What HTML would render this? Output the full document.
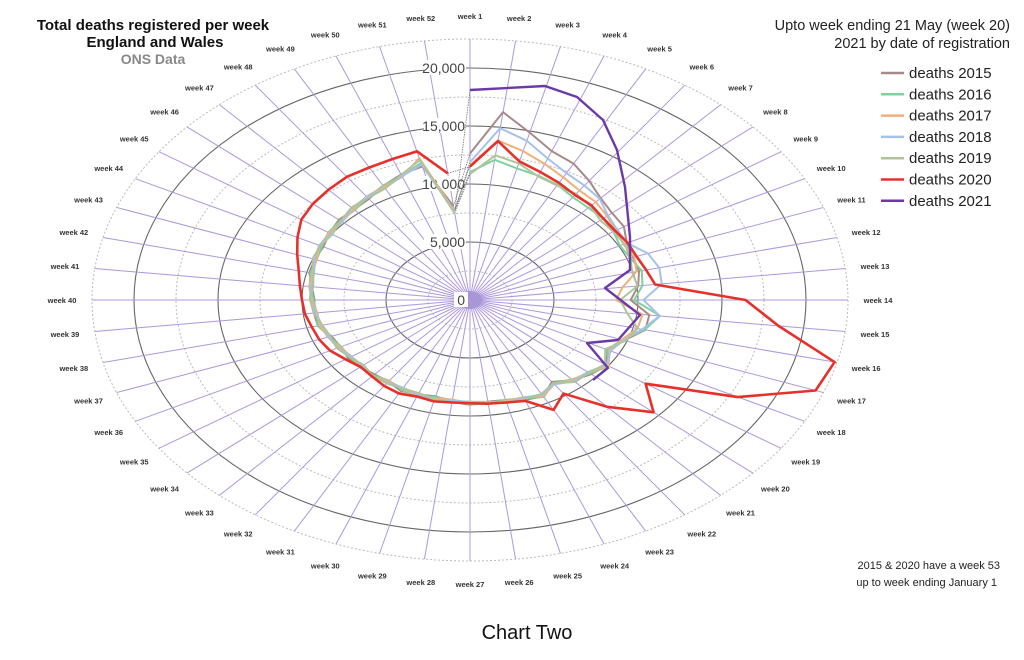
<!DOCTYPE html>
<html><head><meta charset="utf-8"><style>
html,body{margin:0;padding:0;background:#fff;}
svg{display:block;font-family:"Liberation Sans",sans-serif;}
</style></head><body>
<svg id="s" width="1024" height="660" viewBox="0 0 1024 660" xmlns="http://www.w3.org/2000/svg">
<rect width="1024" height="660" fill="#fff"/>
<g id="grid"></g>
<g id="series"></g>
<g font-weight="bold" text-anchor="middle">
<text x="153" y="30" font-size="15" fill="#111">Total deaths registered per week</text>
<text x="155" y="47" font-size="15" fill="#111">England and Wales</text>
<text x="153" y="64" font-size="14" fill="#888">ONS Data</text>
</g>
<g text-anchor="end" font-size="14.5" fill="#222">
<text x="1010" y="30">Upto week ending 21 May (week 20)</text>
<text x="1010" y="48">2021 by date of registration</text>
</g>
<g id="legend" font-size="15" fill="#222"></g>
<g text-anchor="end" font-size="11" fill="#222">
<text x="1000" y="569">2015 &amp; 2020 have a week 53</text>
<text x="997" y="586">up to week ending January 1</text>
</g>
<text x="527" y="639" font-size="20" text-anchor="middle" fill="#111">Chart Two</text>
</svg>
<script>
const NS="http://www.w3.org/2000/svg";
const cx=470,cy=300,KX=0.0168,KY=0.0116;
function el(t,a,p,txt){const e=document.createElementNS(NS,t);for(const k in a)e.setAttribute(k,a[k]);if(txt!==undefined)e.textContent=txt;p.appendChild(e);return e;}
function pt(w,v){const a=(w-1)*2*Math.PI/52;return [cx+v*KX*Math.sin(a),cy-v*KY*Math.cos(a)];}
const g=document.getElementById('grid');
for(let v=2500;v<=22500;v+=2500){
 const major=v%5000===0;
 el('ellipse',{cx:cx,cy:cy,rx:v*KX,ry:v*KY,fill:'none',stroke:major?'#666':'#bbb','stroke-width':major?1.1:1,'stroke-dasharray':major?'':'2,2'},g);
}
for(let w=1;w<=52;w++){const p=pt(w,22500);el('line',{x1:cx,y1:cy,x2:p[0],y2:p[1],stroke:'#ad98dc','stroke-width':1},g);
 const a=(w-1)*2*Math.PI/52;const lx=cx+408*Math.sin(a),ly=cy-284*Math.cos(a)+3;
 el('text',{x:lx,y:ly,'font-size':7.5,'font-weight':'bold','text-anchor':'middle',fill:'#333'},g,'week '+w);}
el('ellipse',{cx:cx,cy:cy,rx:12,ry:9,fill:'#a996d6'},g);
[[0,'0'],[5000,'5,000'],[10000,'10,000'],[15000,'15,000'],[20000,'20,000']].forEach(([v,t])=>{
 el('rect',{x:v?424:454,y:cy-v*KY-8,width:v?42:14,height:15,fill:'#fff'},g);
 el('text',{x:465,y:cy-v*KY+5,'font-size':14,'text-anchor':'end',fill:'#444'},g,t);});
const T=[12000,15000,14000,13000,12500,12000,11500,11000,10800,10500,10400,10200,10000,9000,10000,10300,9800,9300,9900,9500,9300,8700,9300,9100,9000,8900,8900,8800,8700,8700,8700,8600,8700,8600,8700,8800,8900,9200,9300,9400,9500,9700,9900,10000,10100,10300,10500,10700,11000,11500,12300,7600];
function yr(scaleHead,adj,noise){return T.map((v,i)=>{let x=v;if(i<12)x=10000+(v-10000)*scaleHead;x+=adj[i+1]||0;x+=Math.sin(i*1.7+noise)*150;return Math.round(x);});}
const d2015=yr(1.25,{14:700,15:800,16:300,51:-300,52:600},1);
const d2016=yr(0.45,{12:300,13:400,14:900,15:1300,16:300},2);
const d2017=yr(0.8,{13:-700,14:-300,15:200,51:300},3);
const d2018=yr(1.0,{11:800,12:1500,13:1600,14:1200,15:1300,16:400,51:-400},4);
const d2019=yr(0.5,{14:-200,15:-500,16:100,18:-300},5);
const d2020=[11500,13800,12300,11800,11400,11000,10900,10600,10500,10600,10600,10800,11100,16400,18500,22350,22000,18000,12700,14600,12300,9800,10700,9300,9100,9000,8900,8900,9000,8900,9100,9000,8800,8700,9000,9400,9600,9700,9900,10000,10200,10500,11000,11600,12200,12500,12700,12900,12900,13000,13200,11000];
const S=[[d2015,'#a88a8a',2],[d2016,'#82d09e',2],[d2017,'#f0b07a',2],[d2018,'#a5c2ea',2],[d2019,'#b0c49a',2],[d2020,'#e8302a',2.6]];
const purple=[[470,90],[545,86],[577,97],[603,120],[617,150],[625,187],[630,237],[630,270],[605,288],[640,315],[618,340],[587,343],[608,368],[593,380]];
const sg=document.getElementById('series');
S.forEach(([d,c,w])=>{const a=pt(52,d[51]),b=pt(1,d[0]);el('line',{x1:a[0],y1:a[1],x2:b[0],y2:b[1],stroke:'#777','stroke-width':0.8,'stroke-dasharray':'1.5,1'},sg);});
el('line',{x1:pt(52,7600)[0],y1:pt(52,7600)[1],x2:470,y2:90,stroke:'#777','stroke-width':0.8,'stroke-dasharray':'1.5,1'},sg);
S.forEach(([d,c,w])=>{el('polyline',{points:d.map((v,i)=>pt(i+1,v).join(',')).join(' '),fill:'none',stroke:c,'stroke-width':w,'stroke-linejoin':'round'},sg);});
el('polyline',{points:purple.map(p=>p.join(',')).join(' '),fill:'none',stroke:'#6b3aa8','stroke-width':2.4,'stroke-linejoin':'round'},sg);
const cols=S.map(s=>s[1]).concat(['#6b3aa8']);
const lg=document.getElementById('legend');
cols.forEach((c,i)=>{const y=73+i*21.3;el('line',{x1:881,y1:y,x2:904,y2:y,stroke:c,'stroke-width':2.5},lg);
 el('text',{x:909,y:y+5},lg,'deaths '+(2015+i));});
</script>
</body></html>
